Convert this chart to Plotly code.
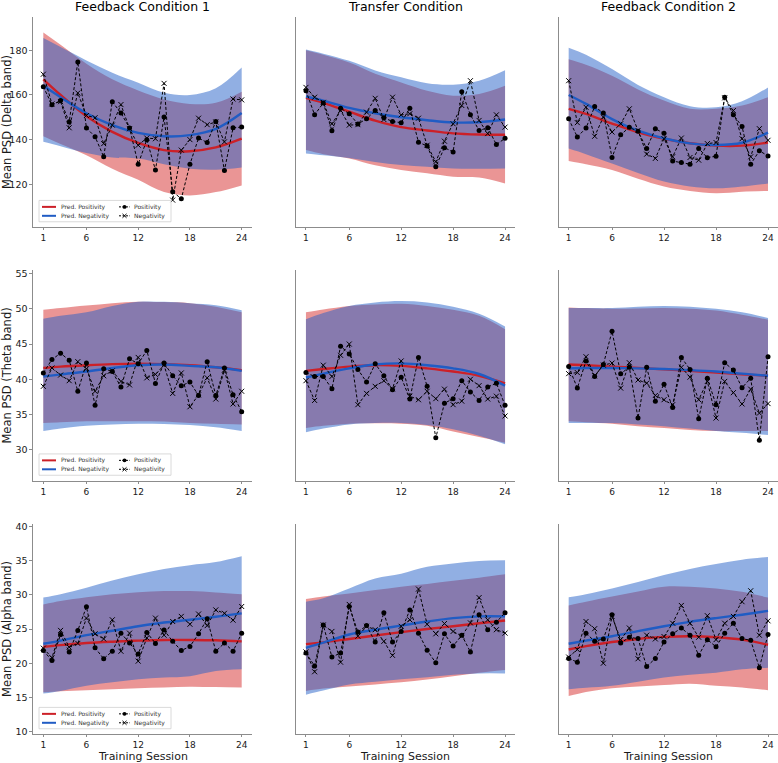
import plotly.graph_objects as go

# ---------------- data ----------------
SESSIONS = list(range(1, 25))
KNOTS = [1, 3, 6, 9, 12, 15, 18, 21, 24]          # sessions where the model curves / intervals were read
X_TICKS = [1, 6, 12, 18, 24]
CONDITIONS = ["Feedback Condition 1", "Transfer Condition", "Feedback Condition 2"]
Y_LABELS = ["Mean PSD (Delta band)", "Mean PSD (Theta band)", "Mean PSD (Alpha band)"]
Y_TICKS = [[120, 140, 160, 180], [30, 35, 40, 45, 50, 55], [10, 15, 20, 25, 30, 35, 40]]

# ---- Delta band ----
DELTA_FC1_POS = [163.7, 155.6, 157.5, 147.9, 174.8, 145.2, 141.3, 132.3, 157.0, 151.9, 145.2, 129.0,
                 140.0, 126.4, 150.1, 116.7, 113.5, 129.0, 140.7, 138.7, 148.1, 126.2, 145.3, 145.6]
DELTA_FC1_NEG = [169.3, 156.0, 157.0, 145.3, 160.9, 150.8, 149.8, 138.2, 146.5, 155.7, 144.9, 137.5,
                 140.7, 140.4, 165.2, 112.9, 135.3, 140.0, 149.6, 146.7, 147.9, 139.0, 158.2, 157.8]
DELTA_FC1_PRED_POS = [167.0, 160.0, 150.5, 143.5, 138.5, 135.3, 134.8, 136.5, 140.4]
DELTA_FC1_PRED_NEG = [164.1, 159.0, 151.8, 146.5, 143.0, 141.5, 142.0, 144.8, 151.9]
DELTA_FC1_POS_HI = [188.0, 182.5, 174.0, 167.0, 162.0, 158.0, 156.0, 156.5, 161.5]
DELTA_FC1_POS_LO = [141.5, 138.0, 133.0, 127.0, 122.0, 116.5, 115.0, 116.5, 119.5]
DELTA_FC1_NEG_HI = [185.5, 181.5, 175.5, 170.0, 165.5, 161.0, 160.0, 163.0, 172.3]
DELTA_FC1_NEG_LO = [139.0, 137.0, 134.0, 132.0, 131.5, 129.0, 127.0, 126.5, 127.5]

DELTA_TR_POS = [161.9, 151.1, 156.4, 144.0, 154.1, 151.6, 147.0, 149.3, 153.0, 149.8, 148.1, 147.6,
                154.1, 138.8, 137.2, 127.9, 136.4, 134.5, 161.5, 151.1, 144.1, 145.3, 137.8, 140.6]
DELTA_TR_NEG = [163.4, 159.0, 156.7, 147.1, 153.0, 146.5, 146.7, 152.3, 158.5, 149.0, 159.0, 151.1,
                151.6, 149.6, 137.5, 130.1, 139.3, 147.1, 155.3, 166.4, 148.6, 142.7, 151.1, 145.6]
DELTA_TR_PRED_POS = [158.7, 156.5, 152.5, 148.5, 145.6, 144.1, 142.8, 142.3, 142.2]
DELTA_TR_PRED_NEG = [159.3, 157.5, 154.2, 151.8, 150.0, 148.7, 147.7, 147.8, 149.0]
DELTA_TR_POS_HI = [180.0, 178.0, 174.5, 169.5, 165.6, 161.9, 159.7, 160.4, 164.1]
DELTA_TR_POS_LO = [135.3, 133.5, 131.6, 128.5, 126.4, 124.9, 123.4, 123.0, 120.4]
DELTA_TR_NEG_HI = [180.4, 178.5, 175.3, 171.0, 167.9, 165.2, 164.6, 166.4, 171.1]
DELTA_TR_NEG_LO = [133.8, 133.0, 131.8, 130.0, 128.6, 127.8, 127.1, 127.0, 127.1]

DELTA_FC2_POS = [149.3, 141.2, 145.2, 154.8, 151.9, 132.0, 142.2, 145.5, 143.7, 136.0, 144.9, 142.8,
                 130.4, 129.8, 129.0, 136.0, 131.9, 132.6, 159.0, 151.1, 145.9, 129.0, 135.0, 132.7]
DELTA_FC2_NEG = [166.4, 147.6, 154.5, 141.5, 150.1, 143.4, 147.1, 153.8, 144.1, 133.5, 131.6, 140.4,
                 132.3, 140.7, 132.0, 130.8, 138.2, 138.7, 158.7, 153.0, 140.4, 132.3, 144.9, 139.7]
DELTA_FC2_PRED_POS = [153.8, 151.5, 147.2, 143.3, 140.4, 138.4, 137.3, 137.3, 138.7]
DELTA_FC2_PRED_NEG = [160.0, 156.0, 149.2, 144.0, 140.6, 138.3, 137.6, 138.6, 143.1]
DELTA_FC2_POS_HI = [176.0, 173.5, 168.6, 162.5, 157.5, 153.8, 153.8, 155.3, 159.0]
DELTA_FC2_POS_LO = [130.4, 129.0, 126.4, 122.5, 119.0, 117.0, 116.0, 116.7, 117.0]
DELTA_FC2_NEG_HI = [181.2, 178.0, 171.6, 164.5, 159.0, 155.0, 154.5, 157.2, 163.4]
DELTA_FC2_NEG_LO = [136.0, 133.5, 129.3, 125.0, 121.2, 119.0, 118.2, 119.0, 120.4]

# ---- Theta band ----
THETA_FC1_POS = [40.9, 42.8, 43.7, 42.7, 38.3, 42.3, 36.3, 41.5, 41.1, 38.9, 42.9, 42.2,
                 44.1, 39.4, 42.3, 40.5, 39.1, 39.6, 37.7, 42.5, 37.7, 41.6, 37.8, 35.4]
THETA_FC1_NEG = [39.0, 41.6, 40.6, 39.8, 42.5, 41.5, 38.3, 40.5, 41.2, 39.7, 39.2, 43.1,
                 40.2, 40.7, 42.0, 38.0, 40.9, 36.1, 37.8, 40.2, 37.2, 41.3, 36.5, 38.3]
THETA_FC1_PRED_POS = [41.6, 41.8, 42.0, 42.15, 42.2, 42.15, 42.0, 41.7, 41.3]
THETA_FC1_PRED_NEG = [40.4, 40.7, 41.1, 41.6, 42.0, 42.1, 41.9, 41.7, 41.2]
THETA_FC1_POS_HI = [49.85, 50.1, 50.45, 50.8, 51.0, 50.95, 50.8, 50.3, 49.5]
THETA_FC1_POS_LO = [33.8, 33.9, 34.05, 34.05, 34.05, 34.0, 33.8, 33.7, 33.6]
THETA_FC1_NEG_HI = [48.6, 49.0, 49.5, 50.4, 51.0, 51.0, 50.8, 50.5, 49.8]
THETA_FC1_NEG_LO = [32.65, 33.0, 33.4, 33.6, 33.7, 33.65, 33.5, 33.2, 32.65]

THETA_TR_POS = [40.95, 40.4, 40.4, 38.65, 44.7, 43.6, 41.4, 39.6, 42.2, 40.5, 38.5, 40.3,
                37.2, 43.1, 39.0, 31.7, 36.6, 37.25, 39.8, 38.2, 37.0, 38.9, 39.45, 36.3]
THETA_TR_NEG = [39.8, 37.0, 42.0, 40.4, 43.4, 45.0, 36.4, 38.0, 39.0, 39.8, 38.65, 42.6,
                37.6, 37.1, 38.3, 37.25, 38.6, 36.4, 36.9, 40.0, 39.1, 37.2, 37.6, 34.8]
THETA_TR_PRED_POS = [41.2, 41.45, 41.8, 42.0, 41.9, 41.55, 41.1, 40.5, 39.4]
THETA_TR_PRED_NEG = [40.25, 40.8, 41.55, 42.1, 42.25, 42.0, 41.55, 40.75, 39.1]
THETA_TR_POS_HI = [49.5, 49.9, 50.4, 50.6, 50.7, 50.4, 49.85, 49.0, 47.1]
THETA_TR_POS_LO = [33.1, 33.4, 33.7, 33.75, 33.7, 33.4, 32.6, 31.8, 31.0]
THETA_TR_NEG_HI = [48.5, 49.4, 50.4, 50.9, 51.1, 50.9, 50.3, 49.3, 47.5]
THETA_TR_NEG_LO = [32.5, 33.0, 33.6, 33.8, 33.8, 33.5, 32.9, 32.0, 30.8]

THETA_FC2_POS = [41.8, 38.75, 42.6, 40.4, 42.1, 46.8, 40.8, 41.7, 34.5, 41.7, 36.9, 39.3,
                 36.0, 43.1, 41.4, 34.4, 40.15, 36.4, 42.35, 41.3, 38.8, 40.15, 31.35, 43.2]
THETA_FC2_NEG = [40.8, 40.95, 43.2, 40.5, 42.0, 42.3, 38.75, 42.35, 39.9, 39.45, 37.7, 37.1,
                 36.4, 41.7, 40.3, 37.1, 39.7, 34.5, 39.7, 38.1, 36.5, 38.6, 35.2, 36.55]
THETA_FC2_PRED_POS = [42.1, 42.0, 41.8, 41.6, 41.4, 41.2, 40.95, 40.7, 40.5]
THETA_FC2_PRED_NEG = [41.55, 41.6, 41.6, 41.55, 41.45, 41.3, 41.1, 40.8, 40.5]
THETA_FC2_POS_HI = [50.2, 50.1, 50.0, 50.05, 50.1, 50.0, 49.75, 49.15, 48.45]
THETA_FC2_POS_LO = [34.05, 33.9, 33.7, 33.35, 33.1, 32.8, 32.65, 32.65, 32.65]
THETA_FC2_NEG_HI = [50.1, 50.1, 50.1, 50.3, 50.4, 50.3, 50.0, 49.5, 48.7]
THETA_FC2_NEG_LO = [33.8, 33.8, 33.8, 33.6, 33.35, 33.0, 32.65, 32.4, 32.1]

# ---- Alpha band ----
ALPHA_FC1_POS = [21.85, 20.4, 24.2, 21.65, 24.8, 28.25, 22.25, 20.65, 21.75, 24.4, 22.95, 21.35,
                 24.5, 22.9, 24.85, 23.2, 21.85, 22.45, 24.3, 26.5, 21.75, 22.95, 21.75, 24.4]
ALPHA_FC1_NEG = [22.2, 20.8, 24.8, 22.35, 22.9, 26.6, 24.3, 23.55, 26.35, 21.75, 24.4, 20.3,
                 23.7, 26.6, 24.1, 26.1, 26.85, 25.7, 27.2, 25.5, 27.8, 27.3, 26.3, 28.3]
ALPHA_FC1_PRED_POS = [22.4, 22.65, 22.95, 23.15, 23.3, 23.4, 23.4, 23.35, 23.2]
ALPHA_FC1_PRED_NEG = [22.85, 23.3, 24.1, 24.75, 25.4, 25.95, 26.35, 26.8, 27.3]
ALPHA_FC1_POS_HI = [28.6, 29.1, 29.65, 30.1, 30.4, 30.55, 30.55, 30.35, 30.1]
ALPHA_FC1_POS_LO = [15.75, 15.9, 16.05, 16.2, 16.35, 16.45, 16.55, 16.5, 16.45]
ALPHA_FC1_NEG_HI = [29.6, 30.1, 31.05, 32.1, 33.0, 33.8, 34.35, 34.8, 35.65]
ALPHA_FC1_NEG_LO = [15.55, 15.95, 16.7, 17.2, 17.65, 17.9, 18.1, 18.85, 19.1]

ALPHA_TR_POS = [21.5, 19.6, 25.6, 20.9, 21.5, 28.3, 24.55, 25.5, 23.1, 27.4, 23.1, 24.65,
                27.8, 24.4, 21.9, 20.05, 24.3, 22.5, 24.1, 21.65, 27.1, 24.9, 26.0, 27.4]
ALPHA_TR_NEG = [21.65, 18.75, 25.6, 24.65, 20.15, 28.6, 23.95, 25.4, 24.9, 23.2, 21.15, 25.4,
                26.35, 30.85, 25.7, 24.3, 25.8, 24.65, 23.95, 25.9, 29.6, 26.35, 24.9, 24.4]
ALPHA_TR_PRED_POS = [22.8, 23.05, 23.55, 24.05, 24.55, 25.0, 25.4, 25.85, 26.25]
ALPHA_TR_PRED_NEG = [22.25, 23.0, 24.2, 24.9, 25.5, 26.1, 26.6, 26.85, 26.85]
ALPHA_TR_POS_HI = [29.4, 29.75, 30.2, 30.7, 31.2, 31.6, 32.05, 32.5, 33.0]
ALPHA_TR_POS_LO = [15.95, 16.3, 16.6, 16.9, 17.2, 17.6, 18.1, 18.6, 19.0]
ALPHA_TR_NEG_HI = [29.0, 29.5, 30.95, 32.4, 33.1, 34.1, 34.6, 34.95, 35.05]
ALPHA_TR_NEG_LO = [15.4, 16.0, 16.9, 17.3, 17.65, 17.95, 18.3, 18.5, 18.5]

ALPHA_FC2_POS = [20.7, 20.15, 24.4, 23.2, 23.55, 27.1, 22.95, 23.8, 23.6, 19.5, 20.7, 23.1,
                 24.3, 25.15, 24.1, 21.15, 23.45, 22.4, 24.4, 25.85, 23.6, 23.35, 19.35, 24.2]
ALPHA_FC2_NEG = [20.9, 22.0, 26.1, 25.05, 20.0, 26.85, 23.45, 25.15, 20.65, 24.1, 23.55, 23.9,
                 25.85, 28.45, 25.85, 23.8, 26.95, 23.45, 25.85, 26.85, 29.0, 30.6, 24.1, 26.2]
ALPHA_FC2_PRED_POS = [22.0, 22.5, 23.1, 23.55, 23.85, 23.95, 23.8, 23.45, 22.7]
ALPHA_FC2_PRED_NEG = [22.85, 23.3, 23.95, 24.7, 25.4, 26.05, 26.6, 27.1, 27.65]
ALPHA_FC2_POS_HI = [28.45, 29.0, 29.75, 30.5, 31.2, 31.2, 30.95, 30.45, 29.6]
ALPHA_FC2_POS_LO = [15.2, 15.8, 16.35, 16.6, 16.8, 17.0, 16.7, 16.45, 16.05]
ALPHA_FC2_NEG_HI = [29.65, 30.1, 30.95, 31.9, 32.9, 33.8, 34.5, 35.15, 35.55]
ALPHA_FC2_NEG_LO = [16.2, 16.4, 16.7, 17.3, 17.9, 18.3, 18.6, 19.1, 19.35]

PANELS = [
    [
        (DELTA_FC1_POS, DELTA_FC1_NEG, DELTA_FC1_PRED_POS, DELTA_FC1_PRED_NEG,
         DELTA_FC1_POS_LO, DELTA_FC1_POS_HI, DELTA_FC1_NEG_LO, DELTA_FC1_NEG_HI),
        (DELTA_TR_POS, DELTA_TR_NEG, DELTA_TR_PRED_POS, DELTA_TR_PRED_NEG,
         DELTA_TR_POS_LO, DELTA_TR_POS_HI, DELTA_TR_NEG_LO, DELTA_TR_NEG_HI),
        (DELTA_FC2_POS, DELTA_FC2_NEG, DELTA_FC2_PRED_POS, DELTA_FC2_PRED_NEG,
         DELTA_FC2_POS_LO, DELTA_FC2_POS_HI, DELTA_FC2_NEG_LO, DELTA_FC2_NEG_HI),
    ],
    [
        (THETA_FC1_POS, THETA_FC1_NEG, THETA_FC1_PRED_POS, THETA_FC1_PRED_NEG,
         THETA_FC1_POS_LO, THETA_FC1_POS_HI, THETA_FC1_NEG_LO, THETA_FC1_NEG_HI),
        (THETA_TR_POS, THETA_TR_NEG, THETA_TR_PRED_POS, THETA_TR_PRED_NEG,
         THETA_TR_POS_LO, THETA_TR_POS_HI, THETA_TR_NEG_LO, THETA_TR_NEG_HI),
        (THETA_FC2_POS, THETA_FC2_NEG, THETA_FC2_PRED_POS, THETA_FC2_PRED_NEG,
         THETA_FC2_POS_LO, THETA_FC2_POS_HI, THETA_FC2_NEG_LO, THETA_FC2_NEG_HI),
    ],
    [
        (ALPHA_FC1_POS, ALPHA_FC1_NEG, ALPHA_FC1_PRED_POS, ALPHA_FC1_PRED_NEG,
         ALPHA_FC1_POS_LO, ALPHA_FC1_POS_HI, ALPHA_FC1_NEG_LO, ALPHA_FC1_NEG_HI),
        (ALPHA_TR_POS, ALPHA_TR_NEG, ALPHA_TR_PRED_POS, ALPHA_TR_PRED_NEG,
         ALPHA_TR_POS_LO, ALPHA_TR_POS_HI, ALPHA_TR_NEG_LO, ALPHA_TR_NEG_HI),
        (ALPHA_FC2_POS, ALPHA_FC2_NEG, ALPHA_FC2_PRED_POS, ALPHA_FC2_PRED_NEG,
         ALPHA_FC2_POS_LO, ALPHA_FC2_POS_HI, ALPHA_FC2_NEG_LO, ALPHA_FC2_NEG_HI),
    ],
]

# ---------------- layout geometry / styles ----------------
W, H = 778, 763
COL_PX = [(33.4, 251.6), (296.0, 515.0), (558.7, 778.0)]
ROW_PX = [(14.0, 226.0), (269.5, 481.5), (525.0, 737.0)]
Y_RANGES = [(100.76, 194.98), (25.61, 55.45), (9.61, 40.39)]
X_RANGE = (-0.15, 25.15)

RED = "rgb(204,32,40)"
BLUE = "rgb(32,92,196)"
RED_FILL = "rgba(214,44,44,0.5)"
BLUE_FILL = "rgba(36,96,200,0.5)"
SPINE = "#8c8c8c"
TXT = "#1a1a1a"
FONT = "DejaVu Sans"


def fx(px):
    return px / W


def fy(py):
    return 1 - py / H


fig = go.Figure()
layout = dict(
    width=W, height=H, margin=dict(l=0, r=0, t=0, b=0),
    paper_bgcolor="white", plot_bgcolor="white", showlegend=False,
    font=dict(family=FONT, color=TXT),
)
annotations = []
shapes = []

for r in range(3):
    for c in range(3):
        k = r * 3 + c + 1
        xa = "x" if k == 1 else f"x{k}"
        ya = "y" if k == 1 else f"y{k}"
        pos, neg, ppos, pneg, plo, phi, nlo, nhi = PANELS[r][c]

        line0 = dict(width=0, shape="spline")
        fig.add_trace(go.Scatter(x=KNOTS, y=plo, mode="lines", line=line0, xaxis=xa, yaxis=ya,
                                 hoverinfo="skip", showlegend=False))
        fig.add_trace(go.Scatter(x=KNOTS, y=phi, mode="lines", line=line0, fill="tonexty",
                                 fillcolor=RED_FILL, xaxis=xa, yaxis=ya, hoverinfo="skip",
                                 showlegend=False))
        fig.add_trace(go.Scatter(x=KNOTS, y=nlo, mode="lines", line=line0, xaxis=xa, yaxis=ya,
                                 hoverinfo="skip", showlegend=False))
        fig.add_trace(go.Scatter(x=KNOTS, y=nhi, mode="lines", line=line0, fill="tonexty",
                                 fillcolor=BLUE_FILL, xaxis=xa, yaxis=ya, hoverinfo="skip",
                                 showlegend=False))
        fig.add_trace(go.Scatter(x=KNOTS, y=ppos, mode="lines", name="Pred. Positivity",
                                 line=dict(color=RED, width=2.4, shape="spline"),
                                 xaxis=xa, yaxis=ya, showlegend=False))
        fig.add_trace(go.Scatter(x=KNOTS, y=pneg, mode="lines", name="Pred. Negativity",
                                 line=dict(color=BLUE, width=2.4, shape="spline"),
                                 xaxis=xa, yaxis=ya, showlegend=False))
        fig.add_trace(go.Scatter(x=SESSIONS, y=pos, mode="lines+markers", name="Positivity",
                                 line=dict(color="black", width=1, dash="3px,2px"),
                                 marker=dict(symbol="circle", size=5, color="black"),
                                 xaxis=xa, yaxis=ya, showlegend=False))
        fig.add_trace(go.Scatter(x=SESSIONS, y=neg, mode="lines+markers", name="Negativity",
                                 line=dict(color="black", width=1, dash="3px,2px"),
                                 marker=dict(symbol="x-thin", size=5, color="black",
                                             line=dict(color="black", width=1)),
                                 xaxis=xa, yaxis=ya, showlegend=False))

        x0, x1 = COL_PX[c]
        y0, y1 = ROW_PX[r]
        layout["xaxis" if k == 1 else f"xaxis{k}"] = dict(
            domain=[fx(x0), fx(x1)], anchor=ya, range=list(X_RANGE),
            tickmode="array", tickvals=X_TICKS, showgrid=False, zeroline=False,
            showline=True, linecolor=SPINE, linewidth=1, ticks="outside", ticklen=2,
            tickcolor=SPINE, tickfont=dict(size=9, color=TXT, family=FONT),
            ticklabeloverflow="allow",
        )
        layout["yaxis" if k == 1 else f"yaxis{k}"] = dict(
            domain=[fy(y1), fy(y0)], anchor=xa, range=list(Y_RANGES[r]),
            tickmode="array", tickvals=Y_TICKS[r], showgrid=False, zeroline=False,
            showline=True, linecolor=SPINE, linewidth=1,
            ticks="outside" if c == 0 else "", ticklen=3, tickcolor=SPINE,
            showticklabels=(c == 0), tickfont=dict(size=9.5, color=TXT, family=FONT),
        )

        if r == 0:
            annotations.append(dict(text=CONDITIONS[c], x=fx((x0 + x1) / 2), y=fy(4),
                                    xref="paper", yref="paper", xanchor="center",
                                    yanchor="middle", showarrow=False, borderpad=0,
                                    font=dict(size=12.5, color="black", family=FONT)))
        if r == 2:
            annotations.append(dict(text="Training Session", x=fx((x0 + x1) / 2), y=fy(759.5),
                                    xref="paper", yref="paper", xanchor="center",
                                    yanchor="middle", showarrow=False, borderpad=0,
                                    font=dict(size=11, color=TXT, family=FONT)))
    # row label
    y0, y1 = ROW_PX[r]
    annotations.append(dict(text=Y_LABELS[r], x=fx(7), y=fy((y0 + y1) / 2), xref="paper",
                            yref="paper", xanchor="center", yanchor="middle", textangle=-90,
                            showarrow=False, borderpad=0,
                            font=dict(size=11.5, color=TXT, family=FONT)))

    # legend box drawn inside the first panel of each row
    top = y1 - 27
    L = 39
    shapes.append(dict(type="rect", xref="paper", yref="paper", x0=fx(L), x1=fx(L + 132),
                       y0=fy(top + 21.5), y1=fy(top), line=dict(color="#d0d0d0", width=0.8),
                       fillcolor="rgba(255,255,255,0.8)", layer="above"))
    rows = [(top + 6.5, RED, "Pred. Positivity", "circle", "Positivity"),
            (top + 15.5, BLUE, "Pred. Negativity", "x", "Negativity")]
    for yy, col, lab, sym, lab2 in rows:
        shapes.append(dict(type="line", xref="paper", yref="paper", x0=fx(L + 3), x1=fx(L + 17),
                           y0=fy(yy), y1=fy(yy), line=dict(color=col, width=2), layer="above"))
        annotations.append(dict(text=lab, x=fx(L + 21), y=fy(yy), xref="paper", yref="paper",
                                xanchor="left", yanchor="middle", showarrow=False, borderpad=0,
                                font=dict(size=6, color="#333333", family=FONT)))
        shapes.append(dict(type="line", xref="paper", yref="paper", x0=fx(L + 80), x1=fx(L + 91),
                           y0=fy(yy), y1=fy(yy),
                           line=dict(color="black", width=1, dash="2px,1.5px"), layer="above"))
        cx = L + 85.5
        if sym == "circle":
            shapes.append(dict(type="circle", xref="paper", yref="paper", x0=fx(cx - 2),
                               x1=fx(cx + 2), y0=fy(yy + 2), y1=fy(yy - 2),
                               fillcolor="black", line=dict(color="black", width=0),
                               layer="above"))
        else:
            for d in (1, -1):
                shapes.append(dict(type="line", xref="paper", yref="paper", x0=fx(cx - 2),
                                   x1=fx(cx + 2), y0=fy(yy - 2 * d), y1=fy(yy + 2 * d),
                                   line=dict(color="black", width=1), layer="above"))
        annotations.append(dict(text=lab2, x=fx(L + 94), y=fy(yy), xref="paper", yref="paper",
                                xanchor="left", yanchor="middle", showarrow=False, borderpad=0,
                                font=dict(size=6, color="#333333", family=FONT)))

layout["annotations"] = annotations
layout["shapes"] = shapes
fig.update_layout(**layout)
fig.write_html(
    "out.html",
    config={"displayModeBar": False},
    post_script="document.body.style.margin='0';document.body.style.overflow='hidden';",
)
